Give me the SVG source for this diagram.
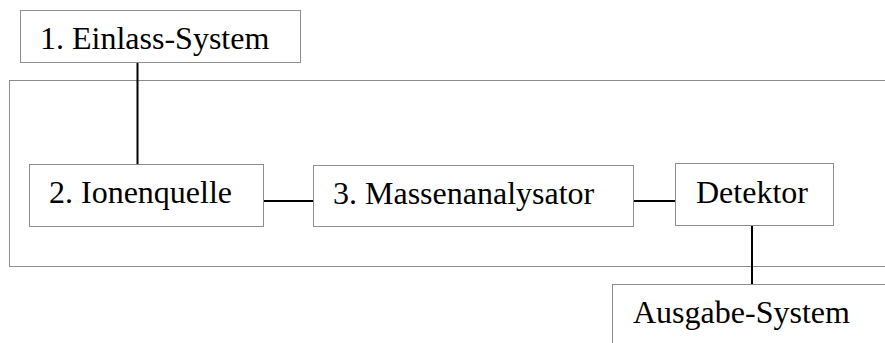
<svg xmlns="http://www.w3.org/2000/svg" width="885" height="343" viewBox="0 0 885 343">
<style>
.box{fill:#fff;stroke:#8c8c8c;stroke-width:1}
.lbl{font-family:"Liberation Serif","Times New Roman",serif;font-size:32px;fill:#000}
.conn{stroke:#000;stroke-width:2;fill:none}
</style>
<rect width="885" height="343" fill="#fff"/>
<g id="container"><rect class="box" x="9.5" y="80.5" width="900" height="186"/></g>
<g id="connectors">
<line class="conn" x1="137.5" y1="62" x2="137.5" y2="164"/>
<line class="conn" x1="264" y1="201" x2="313" y2="201"/>
<line class="conn" x1="634" y1="201" x2="675" y2="201"/>
<line class="conn" x1="752" y1="226" x2="752" y2="284"/>
</g>
<g id="n1"><rect class="box" x="20.5" y="10.5" width="280" height="52"/><text class="lbl" x="40" y="49">1. Einlass-System</text></g>
<g id="n2"><rect class="box" x="29.5" y="164.5" width="234" height="62"/><text class="lbl" x="49" y="203">2. Ionenquelle</text></g>
<g id="n3"><rect class="box" x="313.5" y="165.5" width="320" height="61"/><text class="lbl" x="333" y="204">3. Massenanalysator</text></g>
<g id="n4"><rect class="box" x="675.5" y="163.5" width="158" height="62"/><text class="lbl" x="696" y="203">Detektor</text></g>
<g id="n5"><rect class="box" x="612.5" y="284.5" width="300" height="100"/><text class="lbl" x="633" y="323">Ausgabe-System</text></g>
</svg>
